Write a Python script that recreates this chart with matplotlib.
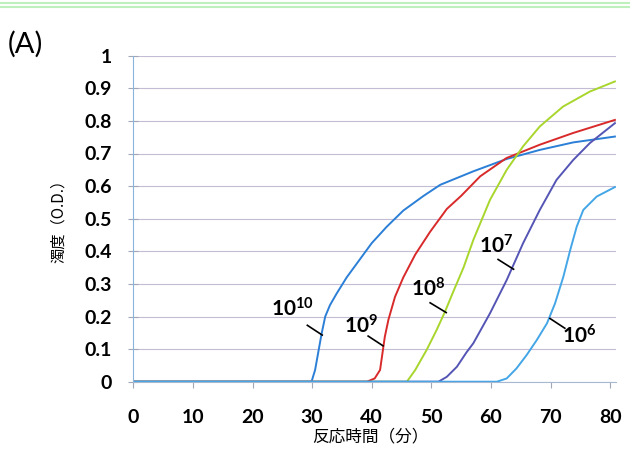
import matplotlib
matplotlib.use("Agg")
import matplotlib.pyplot as plt
from matplotlib.lines import Line2D

plt.rcParams['font.family'] = ['Lato', 'Noto Sans CJK JP', 'DejaVu Sans']
plt.rcParams['mathtext.fontset'] = 'custom'
plt.rcParams['mathtext.bf'] = 'Lato:bold'
plt.rcParams['mathtext.rm'] = 'Lato'

# ---- data ----
t_1e10 = [0, 29.9, 30.5, 31.0, 31.6, 32.2, 33.0, 34.1, 35.8, 37.8, 40.0, 42.5, 45.3,
          48.7, 51.5, 57.0, 62.6, 68.2, 73.8, 80.8]
v_1e10 = [0, 0, 0.036, 0.087, 0.148, 0.20, 0.235, 0.27, 0.32, 0.37, 0.425, 0.475, 0.525,
          0.57, 0.604, 0.645, 0.683, 0.711, 0.734, 0.752]

t_1e9 = [0, 39.2, 40.5, 41.4, 41.8, 42.2, 42.8, 43.9, 45.3, 47.3, 49.8, 52.6, 55.0,
         58.2, 62.6, 68.2, 73.8, 80.8]
v_1e9 = [0, 0, 0.01, 0.036, 0.087, 0.138, 0.19, 0.26, 0.32, 0.39, 0.46, 0.53, 0.57,
         0.63, 0.686, 0.727, 0.763, 0.803]

t_1e8 = [0, 45.9, 47.3, 49.2, 50.9, 52.3, 53.7, 55.4, 57.05, 59.85, 62.65, 65.4, 68.2,
         72.1, 76.6, 80.8]
v_1e8 = [0, 0, 0.036, 0.097, 0.159, 0.215, 0.277, 0.35, 0.435, 0.558, 0.65, 0.722, 0.783,
         0.844, 0.89, 0.921]

t_1e7 = [0, 51.2, 52.6, 54.3, 55.9, 57.05, 59.85, 62.65, 65.4, 68.2, 71.0, 73.8, 76.6, 80.8]
v_1e7 = [0, 0, 0.015, 0.046, 0.09, 0.118, 0.21, 0.312, 0.425, 0.527, 0.619, 0.68, 0.732, 0.793]

t_1e6 = [0, 61.0, 62.65, 64.3, 66.0, 67.7, 69.4, 70.75, 72.15, 73.3, 74.4, 75.5, 77.75, 80.8]
v_1e6 = [0, 0, 0.01, 0.041, 0.082, 0.128, 0.179, 0.24, 0.322, 0.404, 0.476, 0.527, 0.568, 0.597]

x_ticks = [0, 10, 20, 30, 40, 50, 60, 70, 80]
y_ticks = [0, 0.1, 0.2, 0.3, 0.4, 0.5, 0.6, 0.7, 0.8, 0.9, 1]
y_ticklabels = ['0', '0.1', '0.2', '0.3', '0.4', '0.5', '0.6', '0.7', '0.8', '0.9', '1']

labels = ['$\\mathbf{10^{10}}$', '$\\mathbf{10^{9}}$', '$\\mathbf{10^{8}}$',
          '$\\mathbf{10^{7}}$', '$\\mathbf{10^{6}}$']
label_pos = [(26.7, 0.223), (38.2, 0.171), (49.4, 0.284), (60.9, 0.418), (74.8, 0.14)]
leaders = [((29.2, 0.173), (31.7, 0.143)),
           ((39.4, 0.140), (41.9, 0.110)),
           ((49.8, 0.242), (52.5, 0.212)),
           ((61.2, 0.375), (63.8, 0.345)),
           ((69.9, 0.194), (72.4, 0.164))]

colors = ['#2b7fd6', '#d82a2a', '#a8d62c', '#5555b5', '#44a6e6']

W, H = 630, 450
fig = plt.figure(figsize=(6.3, 4.5), dpi=100)
x0, x1, y0, y1 = 133.3, 616.1, 381.7, 55.7
ax = fig.add_axes([x0/W, 1 - y0/H, (x1-x0)/W, (y0-y1)/H])

series = [(t_1e10, v_1e10), (t_1e9, v_1e9), (t_1e8, v_1e8), (t_1e7, v_1e7), (t_1e6, v_1e6)]
for (t, v), c in zip(series, colors):
    ax.plot(t, v, color=c, lw=1.4, solid_joinstyle='round')

ax.set_xlim(0, 81)
ax.set_ylim(0, 1)
ax.set_xticks(x_ticks)
ax.set_yticks(y_ticks)
ax.set_yticklabels(y_ticklabels)
ax.yaxis.grid(True, color='#c4bcd4', lw=0.8)
ax.set_axisbelow(True)
for s in ['top', 'right']:
    ax.spines[s].set_visible(False)
ax.spines['left'].set_color('#8ab4dc')
ax.spines['bottom'].set_color('#a8b8d0')
ax.tick_params(axis='x', direction='out', length=4, color='#a0a8b8', pad=16,
               labelsize=14)
ax.tick_params(axis='y', direction='inout', length=7, color='#a0a8b8', pad=12,
               labelsize=14)
for lab in ax.get_xticklabels() + ax.get_yticklabels():
    lab.set_fontweight('bold')

cjk = ['Noto Sans CJK JP', 'DejaVu Sans']
fig.text(370/W, 1 - 437/H, '反応時間（分）', fontsize=12, family=cjk,
         ha='center', va='center')
fig.text(58/W, 1 - 217/H, '濁度（O.D.）', fontsize=11, family=cjk,
         ha='center', va='center', rotation=90)

for lab, (x, y), ((xa, ya), (xb, yb)) in zip(labels, label_pos, leaders):
    ax.text(x, y, lab, fontsize=15, ha='center', va='center')
    ax.plot([xa, xb], [ya, yb], color='black', lw=1.2)

fig.text(8/W, 1 - 44/H, '(A)', fontsize=21, va='center', ha='left')

fig.add_artist(Line2D([0, 1], [1 - 2.5/H, 1 - 2.5/H], color='#bdf0bd', lw=1.5))
fig.add_artist(Line2D([0, 1], [1 - 6.5/H, 1 - 6.5/H], color='#bdf0bd', lw=1.5))

fig.savefig('out.png', dpi=100)
